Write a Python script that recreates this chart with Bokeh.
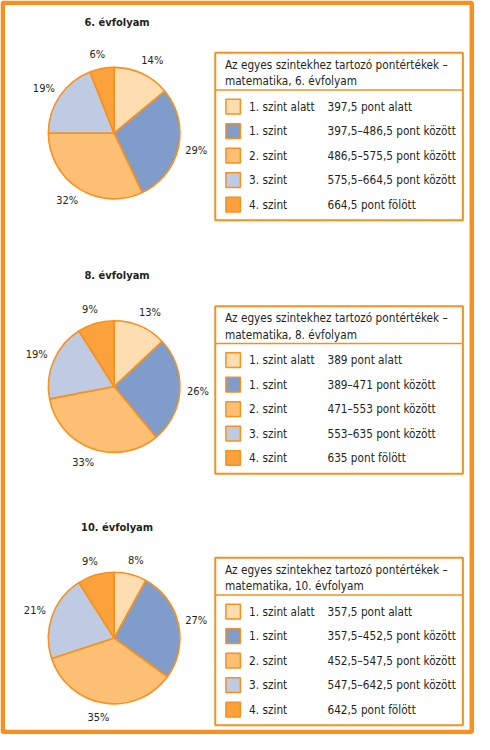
import numpy as np
from bokeh.plotting import figure
from bokeh.core.properties import value
from bokeh.embed import file_html
from bokeh.resources import INLINE

# ---------------- data ----------------
grades = ["6. évfolyam", "8. évfolyam", "10. évfolyam"]
levels = ["1. szint alatt", "1. szint", "2. szint", "3. szint", "4. szint"]
shares_6 = [14, 29, 32, 19, 6]
shares_8 = [13, 26, 33, 19, 9]
shares_10 = [8, 27, 35, 21, 9]
ranges_6 = ["397,5 pont alatt", "397,5–486,5 pont között", "486,5–575,5 pont között",
            "575,5–664,5 pont között", "664,5 pont fölött"]
ranges_8 = ["389 pont alatt", "389–471 pont között", "471–553 pont között",
            "553–635 pont között", "635 pont fölött"]
ranges_10 = ["357,5 pont alatt", "357,5–452,5 pont között", "452,5–547,5 pont között",
             "547,5–642,5 pont között", "642,5 pont fölött"]
legend_head = "Az egyes szintekhez tartozó pontértékek –"
legend_sub = ["matematika, 6. évfolyam", "matematika, 8. évfolyam", "matematika, 10. évfolyam"]

all_shares = [shares_6, shares_8, shares_10]
all_ranges = [ranges_6, ranges_8, ranges_10]

# ---------------- style ----------------
COLORS = ["#FEDEB0", "#7F9CCB", "#FDBF73", "#BFCAE3", "#FBA23C"]
EDGE = "#F7901E"
TXT = "#231F20"
FONT = value("DejaVu Sans Condensed")

W_REF, H_REF = 490, 750
p = figure(width=474, height=734, x_range=(0, W_REF), y_range=(0, H_REF),
           toolbar_location=None, output_backend="svg", min_border=0,
           x_axis_type=None, y_axis_type=None)
p.grid.visible = False
p.outline_line_color = None
p.background_fill_color = "white"
p.border_fill_color = "white"


def Y(v):
    return H_REF - v


# outer frame
p.quad(left=2.3, right=487.2, top=Y(2.3), bottom=Y(747.5), fill_color=None,
       line_color=EDGE, line_width=4.5)

PIE_X = 117.5
PIE_CY = [135.5, 394.5, 651.5]
R = 68
LEG_L, LEG_R = 222, 478

for i in range(3):
    cy = PIE_CY[i]
    shares = np.array(all_shares[i], dtype=float)
    frac = shares / shares.sum()
    cum = np.concatenate([[0.0], np.cumsum(frac)])
    start = np.pi / 2 - 2 * np.pi * cum[:-1]
    end = np.pi / 2 - 2 * np.pi * cum[1:]
    p.wedge(x=PIE_X, y=Y(cy), radius=R, start_angle=start, end_angle=end,
            direction="clock", fill_color=COLORS, line_color=EDGE, line_width=1.6)

    # percentage labels outside the slices
    mid = 2 * np.pi * (cum[:-1] + cum[1:]) / 2
    ux = np.sin(mid)
    uy = -np.cos(mid)
    labels = [f"{int(s)}%" for s in shares]
    hw = np.array([len(t) * 3.6 for t in labels])
    lx = PIE_X + (R + 8) * ux + hw * np.sign(ux) * np.abs(ux) ** 0.5
    ly = cy + (R + 8) * uy + 6 * uy
    p.text(x=lx, y=Y(ly), text=labels, text_font=FONT, text_font_size="11px",
           text_color=TXT, text_align="center", text_baseline="middle")

    # title
    p.text(x=[PIE_X + 3], y=[Y(cy - 113)], text=[grades[i]], text_font=FONT,
           text_font_size="11px", text_font_style="bold", text_color=TXT,
           text_align="center", text_baseline="middle")

    # legend box
    p.quad(left=LEG_L, right=LEG_R, top=Y(cy - 82), bottom=Y(cy + 89),
           fill_color="white", line_color=EDGE, line_width=2)
    p.segment(x0=LEG_L, x1=LEG_R, y0=Y(cy - 44), y1=Y(cy - 44),
              line_color=EDGE, line_width=1.5)
    p.text(x=[232, 232], y=[Y(cy - 70), Y(cy - 53)], text=[legend_head, legend_sub[i]],
           text_font=FONT, text_font_size="11.7px", text_color=TXT,
           text_align="left", text_baseline="middle")

    rows_y = np.array([Y(cy - 27 + 25 * k) for k in range(len(levels))])
    p.rect(x=240.5, y=rows_y, width=15, height=15, fill_color=COLORS,
           line_color=EDGE, line_width=1.5)
    p.text(x=257, y=rows_y, text=levels, text_font=FONT, text_font_size="11.7px",
           text_color=TXT, text_align="left", text_baseline="middle")
    p.text(x=338, y=rows_y, text=all_ranges[i], text_font=FONT, text_font_size="11.7px",
           text_color=TXT, text_align="left", text_baseline="middle")

open("out.html", "w").write(file_html(p, INLINE))
